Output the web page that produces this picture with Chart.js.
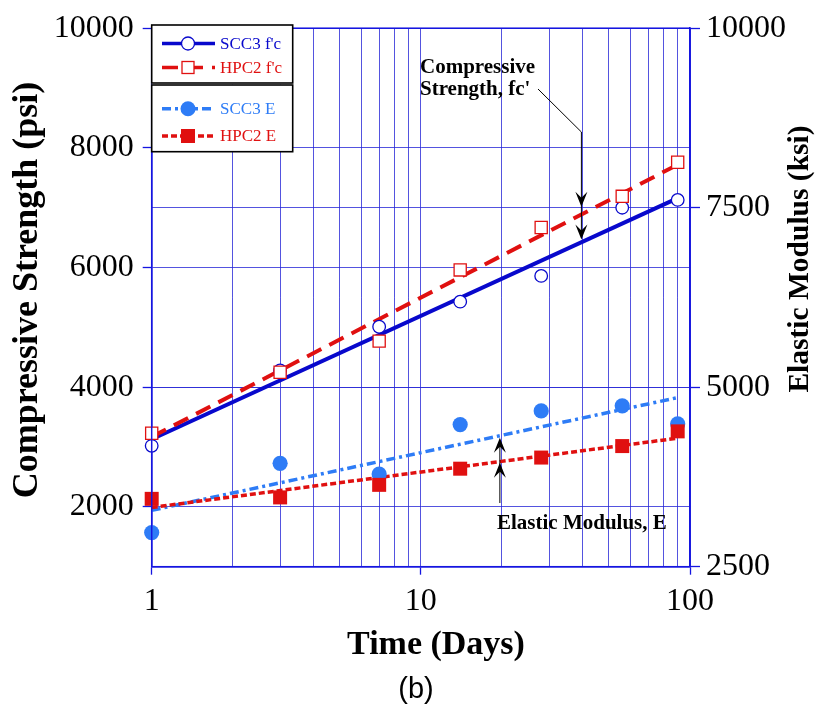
<!DOCTYPE html>
<html><head><meta charset="utf-8">
<script src="https://cdn.jsdelivr.net/npm/chart.js@4.4.1/dist/chart.umd.min.js"></script>
<style>html,body{margin:0;padding:0;background:#fff;}canvas{display:block;}</style>
</head><body>
<canvas id="c" width="817" height="711"></canvas>
<script>
// ---- data ----
const days = [1, 3, 7, 14, 28, 56, 90];
const scc3Fc = [3020, 4280, 5010, 5430, 5860, 7000, 7130];
const hpc2Fc = [3230, 4250, 4770, 5960, 6670, 7190, 7760];
const scc3E = [2975, 3940, 3790, 4480, 4670, 4740, 4490];
const hpc2E = [3445, 3465, 3640, 3865, 4020, 4180, 4385];
const fitDays = [1, 90];
const scc3FcFit = [3130, 7160];
const hpc2FcFit = [3170, 7720];
const scc3EFit = [3285, 4855];
const hpc2EFit = [3325, 4290];
const xGridValues = [1,2,3,4,5,6,7,8,9,10,20,30,40,50,60,70,80,90,100];
const xTickLabels = [1, 10, 100];
const leftTicks = [2000, 4000, 6000, 8000, 10000];
const rightTicks = [2500, 5000, 7500, 10000];
const seriesNames = ["SCC3 f'c", "HPC2 f'c", "SCC3 E", "HPC2 E"];
const annoFcDay = 40, annoEDay = 20;

// ---- styles ----
const BLUE = '#0808cc', RED = '#e01010', LBLUE = '#2e7cf6';
const AXIS = '#1515e0', GRID = 'rgba(40,40,215,0.8)';
const SERIF = "'Liberation Serif','Times New Roman',serif";
const DASH_FC = [16, 9], DASHDOT_E = [9, 4, 3, 4], DOT_E = [6, 3];

const pts = (data) => days.map((d, i) => ({x: d, y: data[i]}));
const fitPts = (data) => fitDays.map((d, i) => ({x: d, y: data[i]}));
function fitAt(arr, d) {
  const t = (Math.log10(d) - Math.log10(fitDays[0])) / (Math.log10(fitDays[1]) - Math.log10(fitDays[0]));
  return arr[0] + t * (arr[1] - arr[0]);
}

const datasets = [
  {label: seriesNames[0], data: pts(scc3Fc), yAxisID: 'y', showLine: false, pointStyle: 'circle', pointRadius: 6.3,
   pointBackgroundColor: '#fff', pointBorderColor: BLUE, pointBorderWidth: 1.3, order: 4, clip: false},
  {label: seriesNames[1], data: pts(hpc2Fc), yAxisID: 'y', showLine: false, pointStyle: 'rect', pointRadius: 8.6,
   pointBackgroundColor: '#fff', pointBorderColor: RED, pointBorderWidth: 1.3, order: 3, clip: false},
  {label: seriesNames[2], data: pts(scc3E), yAxisID: 'y1', showLine: false, pointStyle: 'circle', pointRadius: 7.6,
   pointBackgroundColor: LBLUE, pointBorderColor: LBLUE, pointBorderWidth: 0, order: 2, clip: false},
  {label: seriesNames[3], data: pts(hpc2E), yAxisID: 'y1', showLine: false, pointStyle: 'rect', pointRadius: 9.9,
   pointBackgroundColor: RED, pointBorderColor: RED, pointBorderWidth: 0, order: 1, clip: false},
  {type: 'line', data: fitPts(scc3FcFit), yAxisID: 'y', borderColor: BLUE, borderWidth: 4, pointRadius: 0, order: 8, clip: false},
  {type: 'line', data: fitPts(hpc2FcFit), yAxisID: 'y', borderColor: RED, borderWidth: 4, borderDash: DASH_FC, pointRadius: 0, order: 7, clip: false},
  {type: 'line', data: fitPts(scc3EFit), yAxisID: 'y1', borderColor: LBLUE, borderWidth: 3.5, borderDash: DASHDOT_E, pointRadius: 0, order: 6, clip: false},
  {type: 'line', data: fitPts(hpc2EFit), yAxisID: 'y1', borderColor: RED, borderWidth: 3.5, borderDash: DOT_E, pointRadius: 0, order: 5, clip: false}
];

function arrowHead(ctx, x, tip, dir) { // dir 1: points down, -1: points up
  const L = 15, W = 6, N = 9;
  ctx.beginPath();
  ctx.moveTo(x, tip);
  ctx.lineTo(x - W, tip - dir * L);
  ctx.lineTo(x, tip - dir * N);
  ctx.lineTo(x + W, tip - dir * L);
  ctx.closePath();
  ctx.fill();
}

const decor = {
  id: 'decor',
  afterDatasetsDraw(chart) {
    const {ctx, chartArea: a, scales} = chart;
    ctx.save();
    // frame
    ctx.strokeStyle = AXIS; ctx.lineWidth = 1.5;
    ctx.strokeRect(a.left, a.top, a.right - a.left, a.bottom - a.top);

    // compressive strength annotation
    ctx.fillStyle = '#000'; ctx.strokeStyle = '#000'; ctx.lineWidth = 1;
    ctx.font = "bold 21px " + SERIF; ctx.textBaseline = 'middle'; ctx.textAlign = 'left';
    ctx.fillText('Compressive', 420, 68);
    ctx.fillText("Strength, fc'", 420, 90);
    const xa = scales.x.getPixelForValue(annoFcDay) - 1.5;
    const tipRed = scales.y.getPixelForValue(fitAt(hpc2FcFit, annoFcDay)) - 7;
    const tipBlue = scales.y.getPixelForValue(fitAt(scc3FcFit, annoFcDay)) - 2;
    ctx.beginPath(); ctx.moveTo(538, 89); ctx.lineTo(xa, 132); ctx.lineTo(xa, tipBlue - 5); ctx.stroke();
    arrowHead(ctx, xa, tipRed, 1);
    arrowHead(ctx, xa, tipBlue, 1);

    // elastic modulus annotation
    const xe = scales.x.getPixelForValue(annoEDay) - 2;
    const tipE1 = scales.y1.getPixelForValue(fitAt(scc3EFit, annoEDay)) + 2.5;
    const tipE2 = scales.y1.getPixelForValue(fitAt(hpc2EFit, annoEDay)) + 1.5;
    ctx.beginPath(); ctx.moveTo(xe, 503); ctx.lineTo(xe, tipE1 + 5); ctx.stroke();
    arrowHead(ctx, xe, tipE1, -1);
    arrowHead(ctx, xe, tipE2, -1);
    ctx.fillText('Elastic Modulus, E', 497, 524);

    // legend
    const L = a.left, R = 292.7;
    ctx.fillStyle = '#fff';
    ctx.fillRect(L, 25, R - L, 59.7);
    ctx.fillRect(L, 85, R - L, 66.7);
    ctx.strokeStyle = '#000'; ctx.lineWidth = 1.6;
    ctx.strokeRect(L, 25, R - L, 58);
    ctx.strokeRect(L, 85, R - L, 66.7);
    const rows = [
      {y: 43.5, c: BLUE, dash: [], w: 3.5, mk: 'oc'},
      {y: 67.5, c: RED, dash: DASH_FC, w: 3.5, mk: 'os'},
      {y: 108.7, c: LBLUE, dash: DASHDOT_E, w: 3.5, mk: 'fc'},
      {y: 136, c: RED, dash: DOT_E, w: 3.5, mk: 'fs'}
    ];
    const tcol = [BLUE, RED, LBLUE, RED];
    rows.forEach((r, i) => {
      ctx.strokeStyle = r.c; ctx.lineWidth = r.w; ctx.setLineDash(r.dash);
      ctx.beginPath(); ctx.moveTo(162, r.y); ctx.lineTo(215, r.y); ctx.stroke();
      ctx.setLineDash([]);
      const mx = 188;
      if (r.mk === 'oc') { ctx.fillStyle = '#fff'; ctx.lineWidth = 1.3; ctx.beginPath(); ctx.arc(mx, r.y, 6.5, 0, 2*Math.PI); ctx.fill(); ctx.stroke(); }
      if (r.mk === 'os') { ctx.fillStyle = '#fff'; ctx.lineWidth = 1.3; ctx.fillRect(mx-6, r.y-6, 12, 12); ctx.strokeRect(mx-6, r.y-6, 12, 12); }
      if (r.mk === 'fc') { ctx.fillStyle = r.c; ctx.beginPath(); ctx.arc(mx, r.y, 7.5, 0, 2*Math.PI); ctx.fill(); }
      if (r.mk === 'fs') { ctx.fillStyle = r.c; ctx.fillRect(mx-7, r.y-7, 14, 14); }
      ctx.fillStyle = tcol[i]; ctx.font = "17px " + SERIF; ctx.textBaseline = 'middle'; ctx.textAlign = 'left';
      ctx.fillText(seriesNames[i], 220, r.y + 1);
    });

    // axis titles
    ctx.fillStyle = '#000';
    ctx.textAlign = 'center'; ctx.textBaseline = 'middle';
    ctx.save(); ctx.translate(28, 290); ctx.rotate(-Math.PI/2);
    ctx.font = "bold 36px " + SERIF; ctx.fillText('Compressive Strength (psi)', 0, 0); ctx.restore();
    ctx.save(); ctx.translate(800, 259); ctx.rotate(-Math.PI/2);
    ctx.font = "bold 29.5px " + SERIF; ctx.fillText('Elastic Modulus (ksi)', 0, 0); ctx.restore();
    ctx.font = "bold 34px " + SERIF; ctx.fillText('Time (Days)', 436, 645);
    ctx.font = "29px 'Liberation Sans', Arial, sans-serif"; ctx.fillText('(b)', 416, 690);
    ctx.restore();
  }
};

new Chart(document.getElementById('c'), {
  type: 'scatter',
  data: {datasets},
  plugins: [decor],
  options: {
    responsive: false, animation: false, events: [],
    layout: {padding: {top: 23.3, left: 0, right: 0, bottom: 0}},
    plugins: {legend: {display: false}, tooltip: {enabled: false}},
    scales: {
      x: {
        type: 'logarithmic', position: 'bottom', min: 1, max: 100,
        afterBuildTicks: s => { s.ticks = xGridValues.map(v => ({value: v, major: xTickLabels.includes(v)})); },
        afterFit: s => { s.height = 144.3; },
        grid: {color: GRID, lineWidth: 1, tickLength: 8,
               tickColor: c => (c.tick && xTickLabels.includes(c.tick.value)) ? AXIS : 'rgba(0,0,0,0)', tickWidth: 1.3},
        border: {color: AXIS, width: 1.5},
        ticks: {autoSkip: false, maxRotation: 0, minRotation: 0, padding: 8, color: '#000',
                font: {family: SERIF, size: 32},
                callback: (v) => xTickLabels.includes(v) ? String(v) : ''}
      },
      y: {
        type: 'linear', position: 'left', min: 1000, max: 10000,
        afterBuildTicks: s => { s.ticks = leftTicks.map(v => ({value: v})); },
        afterFit: s => { s.width = 151.7; },
        grid: {color: GRID, lineWidth: 1, tickLength: 9, tickColor: AXIS, tickWidth: 1.3},
        border: {color: AXIS, width: 1.5},
        ticks: {padding: 9, color: '#000', font: {family: SERIF, size: 32}, callback: v => String(v)}
      },
      y1: {
        type: 'linear', position: 'right', min: 2500, max: 10000,
        afterBuildTicks: s => { s.ticks = rightTicks.map(v => ({value: v})); },
        afterFit: s => { s.width = 127; },
        grid: {color: GRID, lineWidth: 1, tickLength: 10, tickColor: AXIS, tickWidth: 1.3, drawOnChartArea: true},
        border: {color: AXIS, width: 1.5},
        ticks: {padding: 6, color: '#000', font: {family: SERIF, size: 32}, callback: v => String(v)}
      }
    }
  }
});
</script>
</body></html>
